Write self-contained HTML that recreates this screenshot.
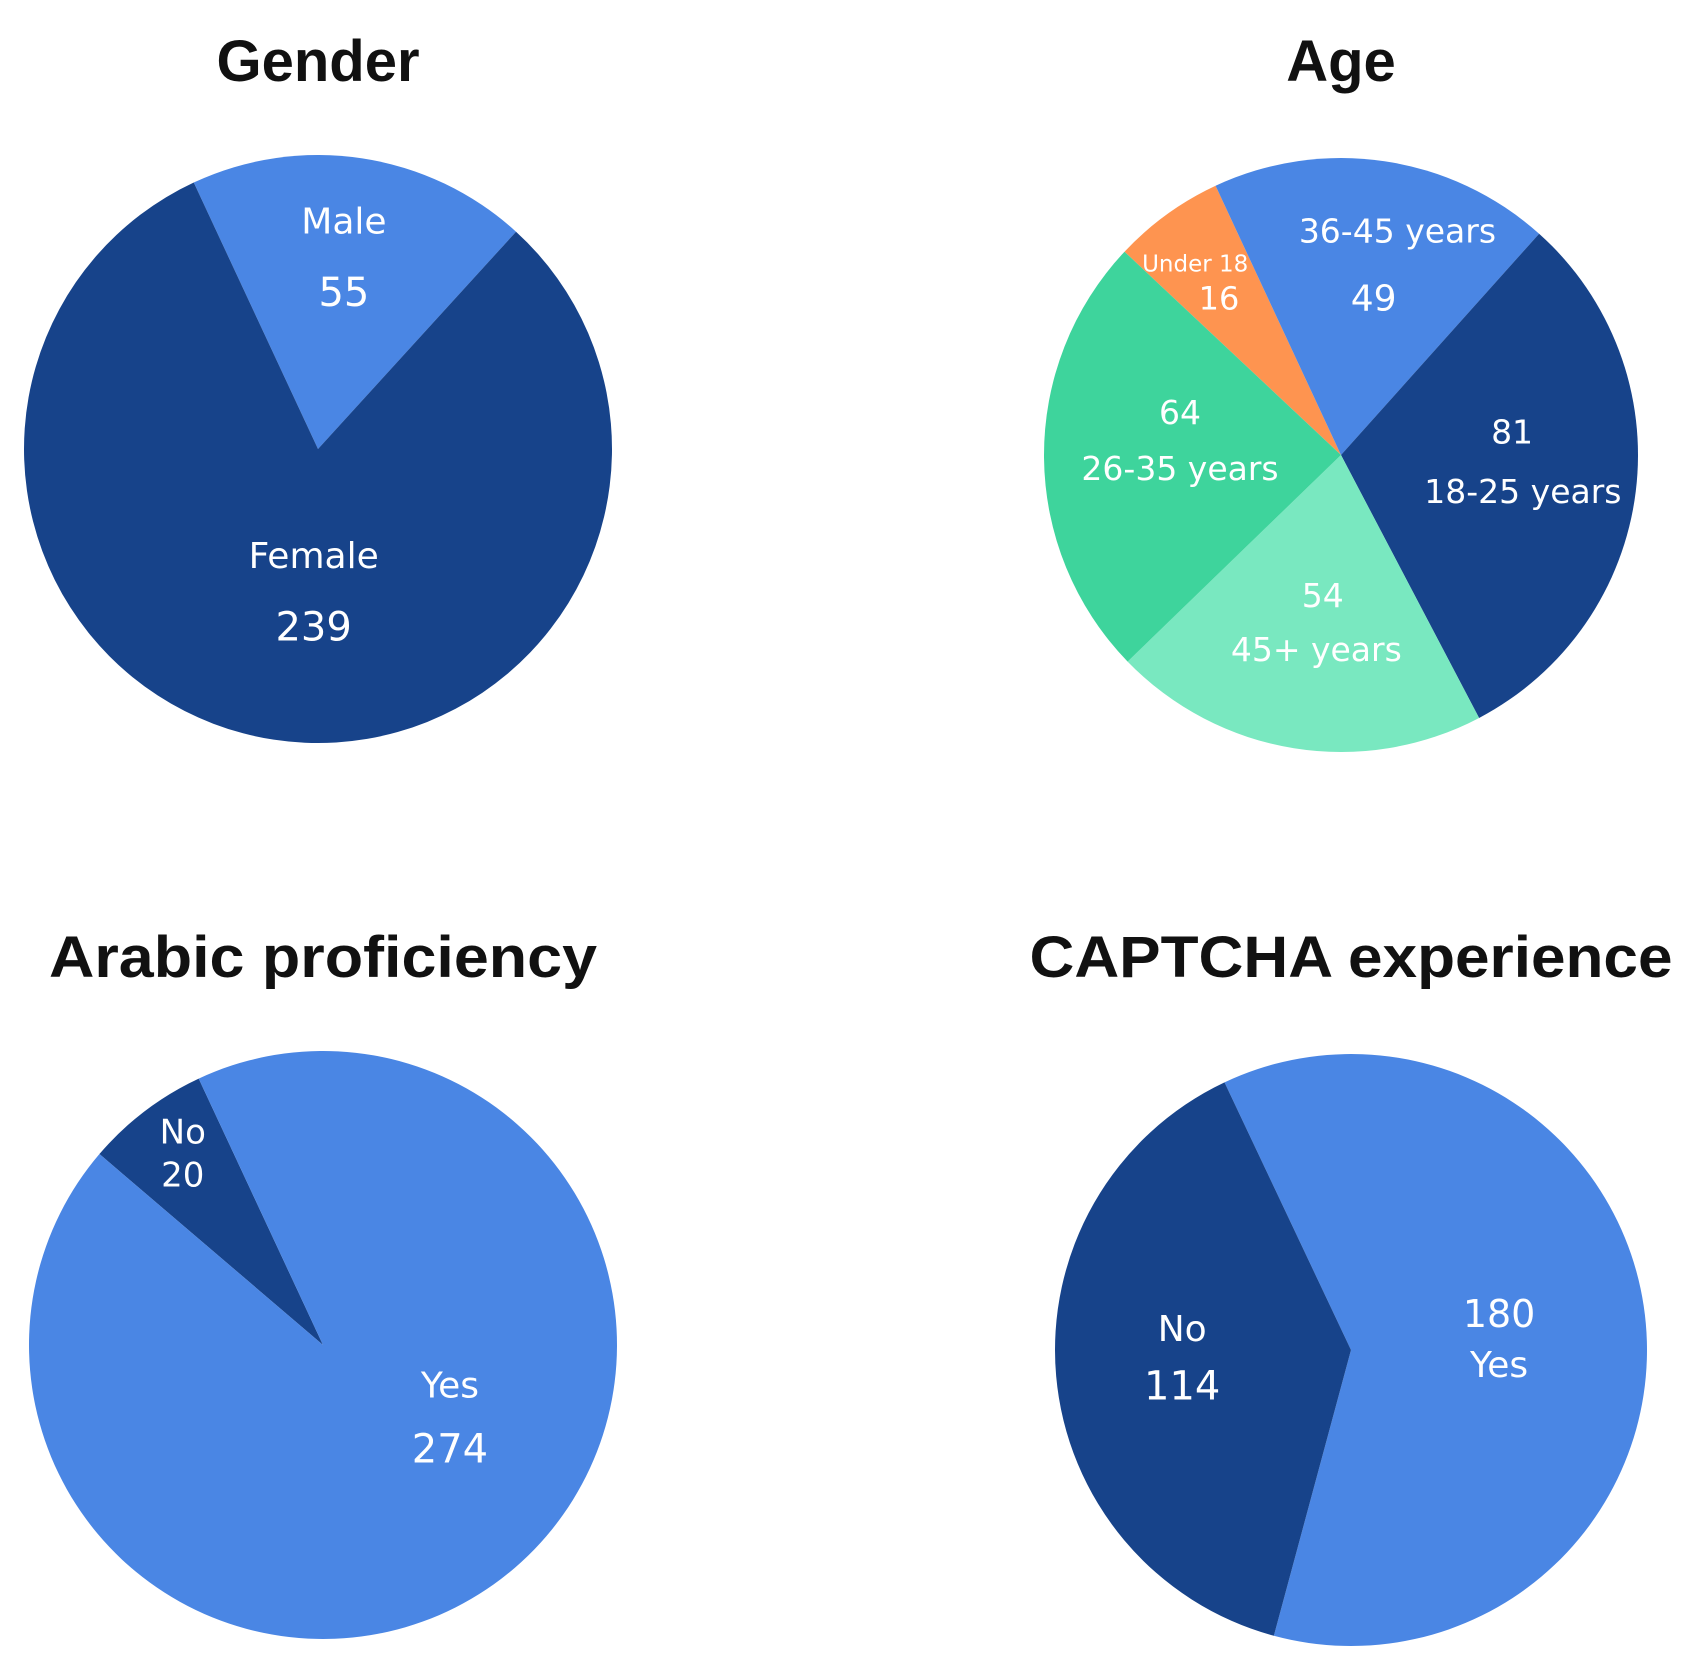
<!DOCTYPE html>
<html><head><meta charset="utf-8"><style>
html,body{margin:0;padding:0;background:#fff;}
svg{display:block;}
.t{font-family:"Liberation Sans",sans-serif;font-weight:bold;fill:#111;text-anchor:middle;}
.l{font-family:"DejaVu Sans","Liberation Sans",sans-serif;fill:#fff;text-anchor:middle;}
</style></head><body>
<svg id="chart" width="1696" height="1666" viewBox="0 0 1696 1666" xmlns="http://www.w3.org/2000/svg">
<text class="t" x="318" y="81" font-size="58">Gender</text>
<text class="t" x="1341" y="81" font-size="58">Age</text>
<text class="t" x="323" y="977" font-size="58" textLength="548" lengthAdjust="spacingAndGlyphs">Arabic proficiency</text>
<text class="t" x="1351" y="977" font-size="58" textLength="643" lengthAdjust="spacingAndGlyphs">CAPTCHA experience</text>
</svg>
<script>
// Gender
const genderCats = ["Male", "Female"];
const genderVals = [55, 239];
// Age
const ageCats = ["Under 18", "36-45 years", "18-25 years", "45+ years", "26-35 years"];
const ageVals = [16, 49, 81, 54, 64];
// Arabic proficiency
const arabicCats = ["No", "Yes"];
const arabicVals = [20, 274];
// CAPTCHA experience
const captchaCats = ["Yes", "No"];
const captchaVals = [180, 114];

const svg = document.getElementById('chart');
const NS = 'http://www.w3.org/2000/svg';
const S = 1.0816;

function pie(name, cx, cy, r, startDeg, vals, cats, colors, labels) {
  const total = vals.reduce((a, b) => a + b, 0);
  let a = startDeg;
  vals.forEach((v, i) => {
    const sweep = v / total * 360;
    const a0 = a * Math.PI / 180, a1 = (a + sweep) * Math.PI / 180;
    const x0 = cx + r * Math.sin(a0), y0 = cy - r * Math.cos(a0);
    const x1 = cx + r * Math.sin(a1), y1 = cy - r * Math.cos(a1);
    const p = document.createElementNS(NS, 'path');
    p.setAttribute('d', `M${cx},${cy} L${x0},${y0} A${r},${r} 0 ${sweep > 180 ? 1 : 0} 1 ${x1},${y1} Z`);
    p.setAttribute('fill', colors[i]);
    
    
    svg.appendChild(p);
    a += sweep;
  });
  labels.forEach(lb => {
    const t = document.createElementNS(NS, 'text');
    t.setAttribute('class', 'l');
    t.setAttribute('x', lb[1] * S);
    t.setAttribute('y', lb[2] * S);
    t.setAttribute('font-size', lb[3]);
    t.textContent = lb[0];
    
    
    svg.appendChild(t);
  });
}
const DARK = '#17438a', BLUE = '#4a86e4', ORANGE = '#fe9450', GREEN = '#3ed49c', LGREEN = '#79e8c0';

pie('gender', 318, 449, 294, -25, genderVals, genderCats, [BLUE, DARK], [
  [genderCats[0], 318, 216, 36], [String(genderVals[0]), 318, 283, 40],
  [genderCats[1], 290, 525, 36], [String(genderVals[1]), 290, 592, 40]]);

pie('age', 1341, 455, 297, -46.8, ageVals, ageCats, [ORANGE, BLUE, DARK, LGREEN, GREEN], [
  [ageCats[0], 1105, 251, 23], [String(ageVals[0]), 1127, 286, 32],
  [ageCats[1], 1292, 224, 33], [String(ageVals[1]), 1270, 287, 36],
  [String(ageVals[2]), 1398, 410, 33], [ageCats[2], 1408, 465, 33],
  [String(ageVals[4]), 1091, 392, 33], [ageCats[4], 1091, 444, 33],
  [String(ageVals[3]), 1223, 561, 33], [ageCats[3], 1217, 611, 33]]);

pie('arabic', 323, 1345, 294, -49.5, arabicVals, arabicCats, [DARK, BLUE], [
  [arabicCats[0], 169, 1057, 34], [String(arabicVals[0]), 169, 1097, 34],
  [arabicCats[1], 416, 1292, 36], [String(arabicVals[1]), 416, 1352, 40]]);

pie('captcha', 1351, 1350, 296, -25.3, captchaVals, captchaCats, [BLUE, DARK], [
  [captchaCats[1], 1093, 1240, 36], [String(captchaVals[1]), 1093, 1294, 40],
  [String(captchaVals[0]), 1386, 1227, 38], [captchaCats[0], 1386, 1273, 36]]);

// keep titles on top
Array.from(svg.querySelectorAll('.t')).forEach(t => svg.appendChild(t));
</script>
</body></html>
